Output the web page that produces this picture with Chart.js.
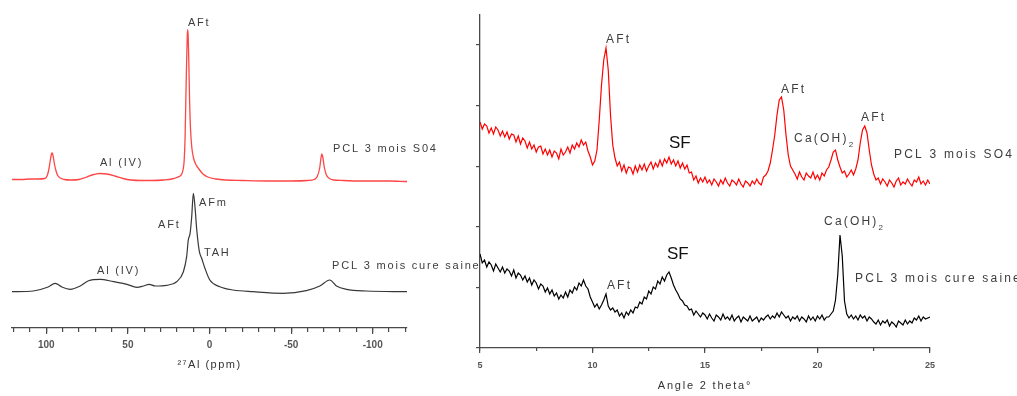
<!DOCTYPE html>
<html><head><meta charset="utf-8">
<script src="https://cdn.jsdelivr.net/npm/chart.js@4.4.1/dist/chart.umd.min.js"></script>
<style>
html,body{margin:0;padding:0;background:#fff;width:1017px;height:396px;overflow:hidden}
#nmr{position:absolute;left:0;top:0}
#xrd{position:absolute;left:440px;top:0}
</style></head><body>
<canvas id="nmr" width="480" height="396"></canvas>
<canvas id="xrd" width="577" height="396"></canvas>
<script>
// ---------- 27Al NMR (left panel) ----------
const nmrSo4Ppm = [121,115,110,105,101,99.5,98.5,97.5,96.8,96.3,95.8,95,94,93,91.5,89,85,80,76,72,67,63,58,53,48,42,35,28,23,20,18,17,16,15.5,15,14.5,14,13.6,13.4,13.1,12.7,12.2,11.6,10.8,9.8,8.5,6.5,4,1,-4,-10,-20,-35,-50,-60,-64,-66,-67.5,-68.3,-68.8,-69.4,-70.3,-71.5,-73,-76,-82,-90,-100,-110,-121];
const nmrSo4 = [74.25,74.25,74.5,74.5,74.75,76,79,84,87,87.5,86,82,78.5,76.25,75,74.25,74,74.25,75.25,76.5,77.25,77,76,74.75,74,73.75,73.75,74,74.5,75.25,76,77,80,84,94,114,134,146.5,149,146.5,134,114,99,90,85,82,79.5,77,75.5,74.5,74,73.75,73.5,73.5,73.75,74.25,75.75,80,85,87,85.5,80.5,76.75,75,74,73.75,73.5,73.5,73.5,73.25];
const nmrSainePpm = [121,108,99.3,94.5,90.4,85.3,79.2,74.1,67,58.8,50.6,44.5,40.5,37,33.3,26.2,20.1,16,14,13,11.9,10.9,9.9,8.9,7.8,6.2,4.8,2.8,-0.2,-6.3,-14.5,-26.7,-45,-59.3,-67.6,-73.7,-77.8,-83.9,-96.1,-121];
const nmrSaine = [18.15,18.5,20.35,22.35,20.5,19.35,21,23.65,24.35,23.15,21.85,20.35,21,21.85,21,21.35,23.15,28.15,35.65,44,47.35,55.65,67.35,60.65,49,38.15,34.85,29.85,24,20.65,19,18.15,17.35,18.65,21,24,21,19.35,18.5,18.15];

// ---------- XRD (right panel), 2theta from 5 to 25 step 0.1 ----------
const xrdStart = 5, xrdStep = 0.1;
const xrdSo4 = [226,219,224,222,215,220,214,221,218,212,
217,211,216,209,214,213,206,212,204,210,
207,200,206,199,203,196,201,202,194,199,
193,198,191,197,195,189,199,193,196,201,
195,203,199,205,201,208,203,206,197,191,
183,187,198,228,263,288,300,278,233,203,
190,182,186,177,183,175,181,180,174,182,
176,183,178,184,177,182,186,179,185,181,
188,182,189,185,191,184,188,182,187,180,
185,179,183,175,176,168,172,165,170,166,
171,165,168,163,169,166,162,168,164,170,
165,162,168,166,163,169,164,161,167,165,
162,167,164,169,165,163,171,173,177,185,
198,213,233,248,251,238,213,193,182,178,
174,169,176,171,168,175,172,170,176,169,
173,168,175,172,178,181,188,196,198,188,
181,175,177,171,174,178,173,179,188,205,
218,222,215,198,183,174,168,170,164,169,
166,162,168,165,161,167,170,163,166,164,
169,165,162,168,166,171,164,167,163,168,
164];
const xrdSaine = [94,85,88,81,86,83,77,84,80,76,
81,75,79,77,72,78,70,75,73,68,
72,66,70,63,68,65,59,64,62,56,
60,54,58,52,55,49,53,50,56,51,
58,55,61,58,65,62,68,62,59,51,
46,41,44,39,43,48,54,42,38,40,
36,38,32,35,30,36,33,38,35,41,
40,46,44,51,49,57,54,61,59,67,
64,71,67,73,76,70,63,58,54,49,
47,43,42,38,39,33,37,34,31,35,
33,29,34,30,27,33,31,28,34,29,
31,28,33,27,30,32,26,31,29,27,
32,27,29,31,26,30,28,31,33,29,
32,30,35,31,36,33,30,32,27,31,
29,32,27,31,29,26,32,28,31,27,
32,29,33,28,31,31,34,37,48,73,
113,92,47,34,30,33,29,32,28,33,
30,32,27,31,29,26,24,28,23,27,
25,28,22,26,24,21,27,25,23,28,
24,27,25,30,28,32,27,31,29,30,
31];
const xrdAngles = xrdSo4.map((_, i) => +(xrdStart + i * xrdStep).toFixed(1));

const FONT = "'Liberation Sans', Arial, Helvetica, sans-serif";
Chart.defaults.font.family = FONT;

// annotations (text labels) in data coordinates
const nmrNotes = [
  {text:'AFt', x:13.2, y:152.5},
  {text:'Al (IV)', x:67.1, y:82.5},
  {text:'PCL 3 mois S04', x:-75.7, y:89.5},
  {text:'AFm', x:6.4, y:62.5},
  {text:'AFt', x:31.5, y:51.5},
  {text:'TAH', x:3.4, y:37.5},
  {text:'Al (IV)', x:68.9, y:28.5},
  {text:'PCL 3 mois cure saine', x:-75.1, y:31}
];
const xrdNotes = [
  {text:'AFt', x:10.6, y:308},
  {text:'SF', x:13.4, y:205, big:true},
  {text:'AFt', x:18.38, y:258},
  {text:'Ca(OH)', sub:'2', x:18.96, y:209},
  {text:'AFt', x:21.93, y:230},
  {text:'PCL 3 mois SO4', x:23.4, y:193},
  {text:'Ca(OH)', sub:'2', x:20.29, y:126},
  {text:'SF', x:13.31, y:94, big:true},
  {text:'AFt', x:10.64, y:62},
  {text:'PCL 3 mois cure saine', x:21.67, y:69}
];

function notesPlugin(notes, size, spacing) {
  return {
    id: 'notes',
    afterDraw(chart) {
      const ctx = chart.ctx, xs = chart.scales.x, ys = chart.scales.y;
      ctx.save();
      ctx.textAlign = 'left';
      ctx.textBaseline = 'middle';
      for (const n of notes) {
        const px = xs.getPixelForValue(n.x), py = ys.getPixelForValue(n.y);
        if (n.big) {
          ctx.font = '17px ' + FONT;
          ctx.letterSpacing = '0px';
          ctx.fillStyle = '#111';
        } else {
          ctx.font = size + 'px ' + FONT;
          ctx.letterSpacing = spacing + 'px';
          ctx.fillStyle = '#3d3d3d';
        }
        ctx.fillText(n.text, px, py);
        if (n.sub) {
          const w = ctx.measureText(n.text).width;
          ctx.font = Math.round(size * 0.7) + 'px ' + FONT;
          ctx.fillText(n.sub, px + w, py + size * 0.45);
        }
      }
      ctx.restore();
    }
  };
}
function titleSpacing(sp) {
  return {
    id: 'titleSpacing',
    afterLayout(chart) {
      for (const s of Object.values(chart.scales)) {
        if (s._spWrapped) continue;
        const orig = s.drawTitle;
        s.drawTitle = function () {
          const c = this.ctx; c.save(); c.letterSpacing = sp + 'px'; orig.call(this); c.restore();
        };
        s._spWrapped = true;
      }
    }
  };
}

const AXIS = '#4a4a4a';

new Chart(document.getElementById('nmr'), {
  type: 'line',
  data: { datasets: [
    { data: nmrSo4Ppm.map((p, i) => ({x: p, y: nmrSo4[i]})), borderColor: '#ff4545', borderWidth: 1.3, pointRadius: 0, cubicInterpolationMode: 'monotone' },
    { data: nmrSainePpm.map((p, i) => ({x: p, y: nmrSaine[i]})), borderColor: '#383838', borderWidth: 1.2, pointRadius: 0, cubicInterpolationMode: 'monotone' }
  ]},
  options: {
    responsive: false, animation: false, events: [],
    layout: { padding: { left: 12, right: 73, top: 0, bottom: 0 } },
    plugins: { legend: { display: false }, tooltip: { enabled: false } },
    scales: {
      x2: { type: 'linear', position: 'bottom', reverse: true, min: -121, max: 121, weight: 0,
        afterFit(s) { s.height = 0; },
        ticks: { display: false, stepSize: 10, includeBounds: false, autoSkip: false, maxTicksLimit: 100 },
        grid: { drawOnChartArea: false, drawTicks: true, tickLength: 4, color: AXIS, lineWidth: 1.2, tickWidth: 1.2, tickColor: AXIS },
        border: { display: false } },
      x: { type: 'linear', position: 'bottom', reverse: true, min: -121, max: 121, weight: 1,
        afterFit(s) { s.height = 68; },
        ticks: { stepSize: 50, includeBounds: false, autoSkip: false, maxTicksLimit: 100, maxRotation: 0, font: { size: 10, weight: 'bold' }, color: '#555', padding: 5 },
        grid: { drawOnChartArea: false, drawTicks: true, tickLength: 6, color: AXIS, lineWidth: 1.2, tickWidth: 1.2, tickColor: AXIS },
        border: { color: AXIS, width: 1.3 },
        title: { display: true, text: '²⁷Al (ppm)', font: { size: 11 }, color: '#333', padding: { top: 0, bottom: 24 } } },
      y: { display: false, min: 0, max: 164 }
    }
  },
  plugins: [notesPlugin(nmrNotes, 11, 1.8), titleSpacing(1.5)]
});

new Chart(document.getElementById('xrd'), {
  type: 'line',
  data: { datasets: [
    { data: xrdAngles.map((a, i) => ({x: a, y: xrdSo4[i]})), borderColor: '#ff0000', borderWidth: 1.2, pointRadius: 0, tension: 0 },
    { data: xrdAngles.map((a, i) => ({x: a, y: xrdSaine[i]})), borderColor: '#000000', borderWidth: 1.2, pointRadius: 0, tension: 0 }
  ]},
  options: {
    responsive: false, animation: false, events: [],
    layout: { padding: { left: 0, right: 87, top: 15, bottom: 0 } },
    plugins: { legend: { display: false }, tooltip: { enabled: false } },
    scales: {
      x2: { type: 'linear', position: 'bottom', min: 5, max: 25, weight: 0,
        afterFit(s) { s.height = 0; },
        ticks: { display: false, stepSize: 2.5, includeBounds: false, autoSkip: false, maxTicksLimit: 100 },
        grid: { drawOnChartArea: false, drawTicks: true, tickLength: 3, color: AXIS, lineWidth: 1.2, tickWidth: 1.2, tickColor: AXIS },
        border: { display: false } },
      x: { type: 'linear', position: 'bottom', min: 5, max: 25, weight: 1,
        afterFit(s) { s.height = 48; },
        ticks: { stepSize: 5, includeBounds: false, autoSkip: false, maxTicksLimit: 100, maxRotation: 0, font: { size: 9, weight: 'bold' }, color: '#555', padding: 7 },
        grid: { drawOnChartArea: false, drawTicks: true, tickLength: 5, color: AXIS, lineWidth: 1.2, tickWidth: 1.2, tickColor: AXIS },
        border: { color: AXIS, width: 1.3 },
        title: { display: true, text: 'Angle 2 theta°', font: { size: 11 }, color: '#333', padding: { top: 0, bottom: 3 } } },
      y: { type: 'linear', position: 'left', min: 0, max: 333,
        afterFit(s) { s.width = 40; },
        ticks: { display: false, stepSize: 60.6, includeBounds: false, maxTicksLimit: 100 },
        grid: { drawOnChartArea: false, drawTicks: true, tickLength: 4, color: AXIS, lineWidth: 1.2, tickWidth: 1.2, tickColor: AXIS },
        border: { color: AXIS, width: 1.3 } }
    }
  },
  plugins: [notesPlugin(xrdNotes, 12, 2.2), titleSpacing(1.8)]
});
</script>
</body></html>
